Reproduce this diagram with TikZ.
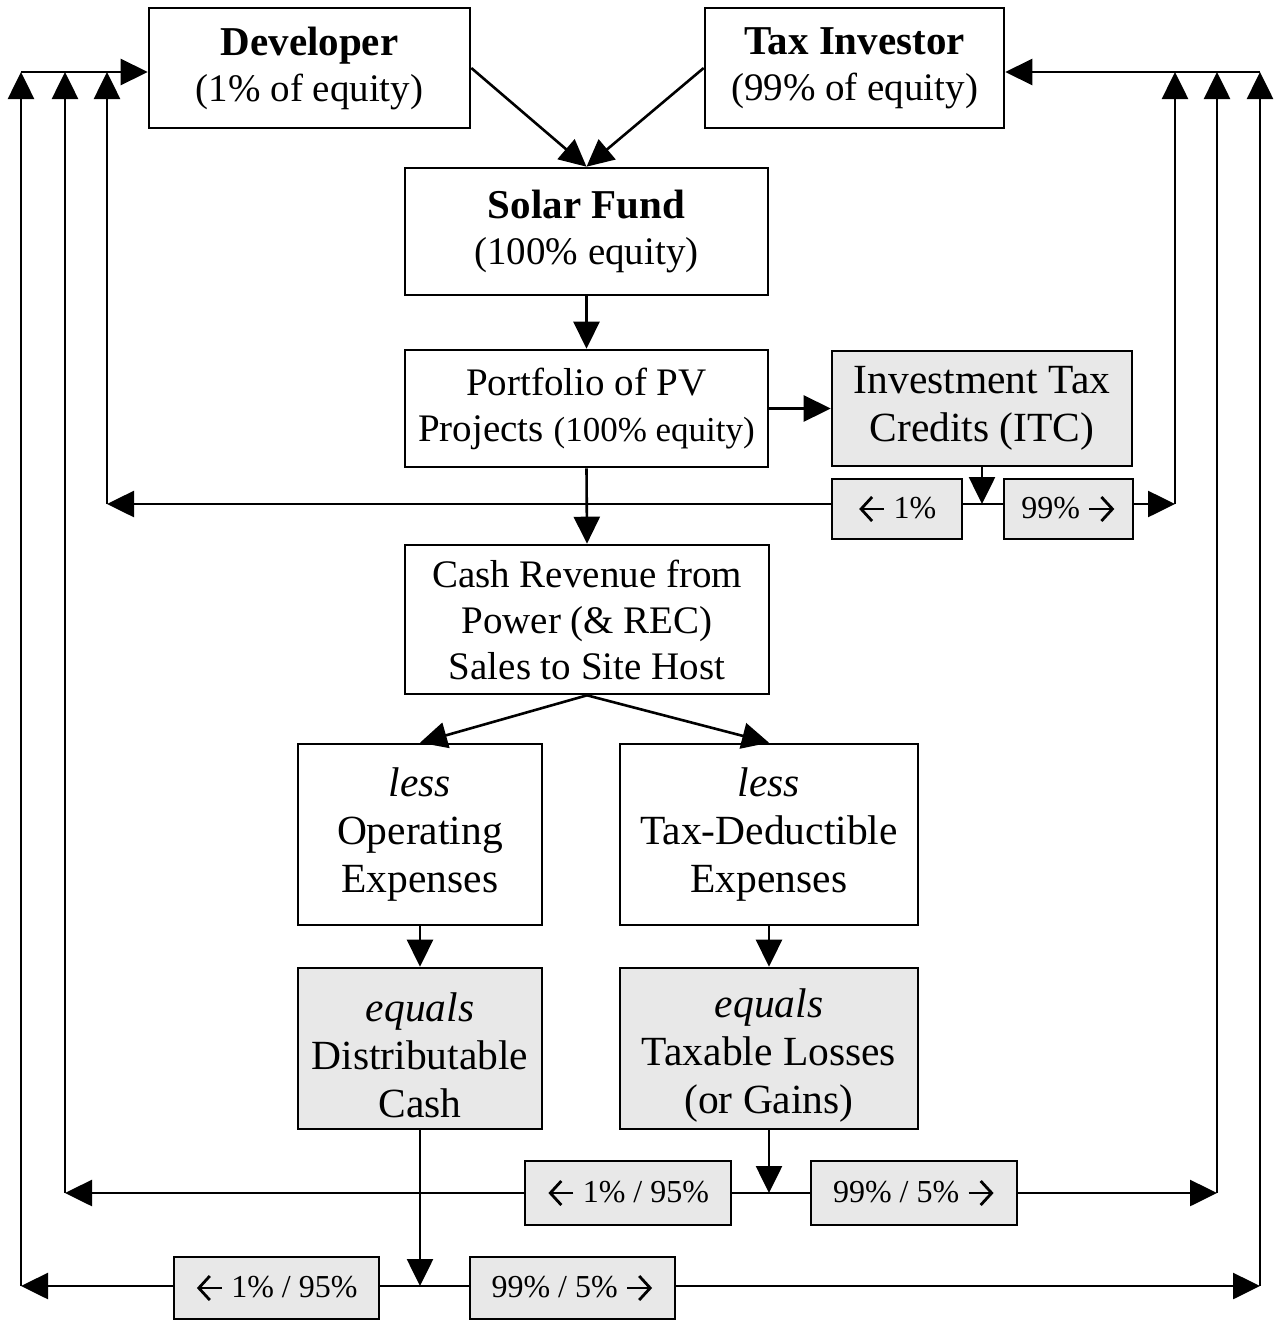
\documentclass[tikz,border=0pt]{standalone}
\usepackage{fontspec}
\setmainfont{Liberation Serif}
\usetikzlibrary{arrows.meta}
\definecolor{boxgray}{HTML}{E8E8E8}
\newcommand\mainsz{\fontsize{39}{46}\selectfont}
\newcommand\bigsz{\fontsize{41.5}{48}\selectfont}
\newcommand\titlesz{\fontsize{41}{46}\selectfont}
\newcommand\midsz{\fontsize{35}{46}\selectfont}
\newcommand\smallsz{\fontsize{32}{36}\selectfont}
\newcommand\myleftarr{\tikz[baseline=-9pt]\draw[line width=2.8pt,-{Straight Barb[length=11pt,width=24pt,line width=2.8pt]}] (25pt,0pt) -- (0pt,0pt);}
\newcommand\myrightarr{\tikz[baseline=-9pt]\draw[line width=2.8pt,-{Straight Barb[length=11pt,width=24pt,line width=2.8pt]}] (0pt,0pt) -- (25pt,0pt);}
\begin{document}
\begin{tikzpicture}[x=1pt,y=-1pt,line width=2.6pt,
  arr/.style={-{Triangle[length=27pt,width=26pt]}},
  box/.style={draw,align=center,inner sep=0pt,font=\mainsz},
  gbox/.style={box,fill=boxgray},
  lbl/.style={draw,fill=boxgray,inner sep=0pt,font=\smallsz}]
\useasboundingbox[fill=white] (0,0) rectangle (1278,1320);

% main boxes
\node[box,minimum width=321pt,minimum height=120pt] (dev) at (309.5,68) {{\titlesz\textbf{Developer}}\\(1\% of equity)};
\node[box,minimum width=299pt,minimum height=120pt] (tax) at (854.5,68) {{\titlesz\textbf{Tax Investor}}\\(99\% of equity)};
\node[box,minimum width=363pt,minimum height=127pt] (fund) at (586.5,231.5) {{\titlesz\textbf{Solar Fund}}\\(100\% equity)};
\node[box,minimum width=363pt,minimum height=117pt] (port) at (586.5,408.5) {Portfolio of PV\\Projects {\midsz(100\% equity)}};
\node[gbox,minimum width=300pt,minimum height=115pt,font=\bigsz] (itc) at (982,408.5) {Investment Tax\\Credits (ITC)};
\node[box,minimum width=364pt,minimum height=149pt] (cash) at (587,619.5) {Cash Revenue from\\Power (\& REC)\\Sales to Site Host};
\node[box,minimum width=244pt,minimum height=181pt,font=\bigsz] (lessop) at (420,834.5) {\textit{less}\\Operating\\Expenses};
\node[box,minimum width=298pt,minimum height=181pt,font=\bigsz] (lesstax) at (769,834.5) {\textit{less}\\Tax-Deductible\\Expenses};
\node[gbox,minimum width=244pt,minimum height=161pt,font=\bigsz] (eqcash) at (420,1048.5) {\rule{0pt}{42pt}\textit{equals}\\Distributable\\Cash};
\node[gbox,minimum width=298pt,minimum height=161pt,font=\bigsz] (eqtax) at (769,1048.5) {\rule{0pt}{42pt}\textit{equals}\\Taxable Losses\\(or Gains)};

% coordinates of the routing lines
\coordinate (tl) at (21,72);
\coordinate (tr) at (1260,72);
\coordinate (L1b) at (21,1286);   \coordinate (L1t) at (21,72);
\coordinate (L2b) at (65,1193);   \coordinate (L2t) at (65,72);
\coordinate (L3b) at (107,504);   \coordinate (L3t) at (107,72);
\coordinate (R1b) at (1175,504);  \coordinate (R1t) at (1175,72);
\coordinate (R2b) at (1217,1193); \coordinate (R2t) at (1217,72);
\coordinate (R3b) at (1260,1286); \coordinate (R3t) at (1260,72);
\coordinate (j1) at (982,504);
\coordinate (j2) at (769,1193);
\coordinate (j3) at (420,1286);

% flow arrows
\draw[arr] (dev.east) -- (fund.north);
\draw[arr] (tax.west) -- (fund.north);
\draw[arr] (fund.south) -- (port.north);
\draw[arr] (port.east) -- (itc.west);
\draw[arr] (port.south) -- (cash.north);
\draw[arr] (cash.south) -- (lessop.north);
\draw[arr] (cash.south) -- (lesstax.north);
\draw[arr] (lessop.south) -- (eqcash.north);
\draw[arr] (lesstax.south) -- (eqtax.north);
\draw[arr] (itc.south) -- (j1);
\draw[arr] (eqtax.south) -- (j2);
\draw[arr] (eqcash.south) -- (j3);

% top distribution lines
\draw[arr] (tl) -- (dev.west |- tl);
\draw[arr] (tr) -- (tax.east |- tr);

% split labels
\node[lbl,minimum width=130pt,minimum height=60pt] (itcL) at (897,509) {\myleftarr\ 1\%};
\node[lbl,minimum width=129pt,minimum height=60pt] (itcR) at (1068.5,509) {99\% \myrightarr};
\node[lbl,minimum width=206pt,minimum height=64pt] (midL) at (628,1193) {\myleftarr\ 1\% / 95\%};
\node[lbl,minimum width=206pt,minimum height=64pt] (midR) at (914,1193) {99\% / 5\% \myrightarr};
\node[lbl,minimum width=205pt,minimum height=62pt] (botL) at (276.5,1288) {\myleftarr\ 1\% / 95\%};
\node[lbl,minimum width=205pt,minimum height=62pt] (botR) at (572.5,1288) {99\% / 5\% \myrightarr};

% ITC split
\draw (itcL.east |- j1) -- (itcR.west |- j1);
\draw[arr] (itcL.west |- j1) -- (L3b);
\draw[arr] (itcR.east |- j1) -- (R1b);
% taxable split
\draw (midL.east |- j2) -- (midR.west |- j2);
\draw[arr] (midL.west |- j2) -- (L2b);
\draw[arr] (midR.east |- j2) -- (R2b);
% cash split
\draw (botL.east |- j3) -- (botR.west |- j3);
\draw[arr] (botL.west |- j3) -- (L1b);
\draw[arr] (botR.east |- j3) -- (R3b);

% verticals up to the owners
\draw[arr] (L1b) -- (L1t);
\draw[arr] (L2b) -- (L2t);
\draw[arr] (L3b) -- (L3t);
\draw[arr] (R1b) -- (R1t);
\draw[arr] (R2b) -- (R2t);
\draw[arr] (R3b) -- (R3t);
\end{tikzpicture}
\end{document}
